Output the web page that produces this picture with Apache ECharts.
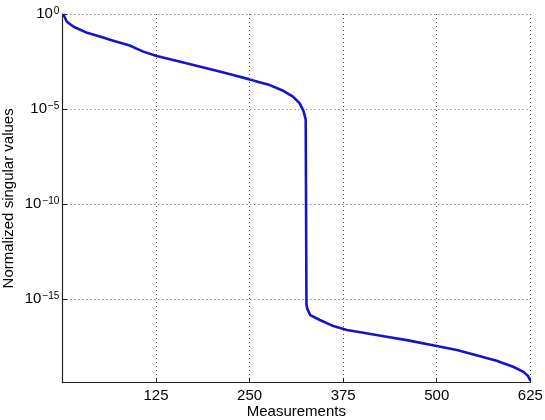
<!DOCTYPE html>
<html>
<head>
<meta charset="utf-8">
<title>Normalized singular values</title>
<script src="https://cdn.jsdelivr.net/npm/echarts@6/dist/echarts.min.js"></script>
<style>
  html, body { margin: 0; padding: 0; background: #fff; }
  #main { width: 545px; height: 420px; }
</style>
</head>
<body>
<div id="main"></div>
<script>
// measurement index (x) and log10 of the normalized singular value (y)
var measurements = [1, 2, 6, 15, 33, 50, 68, 90, 99, 108, 126, 148, 175, 202, 228, 250, 262, 277, 295, 308, 317, 322, 325,
  326, 327, 331, 344, 362, 380, 406, 433, 460, 500, 527, 553, 580, 602, 616, 622, 625]
var logSingular = [0, -0.1, -0.41, -0.67, -0.99, -1.19, -1.41, -1.66, -1.82, -1.98, -2.21, -2.42, -2.68, -2.95, -3.21, -3.44, -3.58, -3.74, -4.04, -4.35, -4.7, -5.1, -5.55,
  -15.3, -15.5, -15.84, -16.1, -16.42, -16.63, -16.8, -16.98, -17.16, -17.47, -17.68, -17.95, -18.25, -18.56, -18.83, -19.05, -19.3]

var xTicks = [125, 250, 375, 500, 625]
var yTicks = [-15, -10, -5, 0]   // exponents shown as 10^n

var font = "'Liberation Sans', Arial, Helvetica, sans-serif"

var chart = echarts.init(document.getElementById('main'))

var points = measurements.map(function (m, i) { return [m, logSingular[i]] })

var gridLine = { show: true, lineStyle: { color: '#555', type: [1, 3], width: 1 } }

var option = {
  animation: false,
  backgroundColor: '#fff',
  grid: { left: 62.4, right: 14.7, top: 14, bottom: 37.3, containLabel: false, outerBoundsMode: 'none' },
  xAxis: {
    type: 'value',
    min: 0,
    max: 625,
    interval: 125,
    name: 'Measurements',
    nameLocation: 'middle',
    nameGap: 22,
    nameMoveOverlap: false,
    nameTextStyle: { fontFamily: font, fontSize: 15, color: '#000' },
    axisLine: { show: true, onZero: false, lineStyle: { color: '#222', width: 1.2 } },
    axisTick: { show: true, inside: true, length: 5, customValues: xTicks, lineStyle: { color: '#222' } },
    axisLabel: {
      customValues: xTicks,
      margin: 6,
      fontFamily: font, fontSize: 15, color: '#000'
    },
    splitLine: gridLine
  },
  yAxis: {
    type: 'value',
    min: -19.4,
    max: 0,
    name: 'Normalized singular values',
    nameLocation: 'middle',
    nameGap: 46,
    nameMoveOverlap: false,
    nameTextStyle: { fontFamily: font, fontSize: 15, color: '#000' },
    axisLine: { show: true, onZero: false, lineStyle: { color: '#222', width: 1.2 } },
    axisTick: { show: true, inside: true, length: 5, customValues: yTicks, lineStyle: { color: '#222' } },
    axisLabel: {
      customValues: yTicks,
      margin: 3,
      formatter: function (v) {
        var e = Math.round(v)
        return '{b|10}{s|' + (e < 0 ? '\u2212' + (-e) : e) + '}'
      },
      rich: {
        b: { fontFamily: font, fontSize: 15, lineHeight: 15, color: '#000', verticalAlign: 'bottom' },
        s: { fontFamily: font, fontSize: 10, lineHeight: 10, color: '#000', verticalAlign: 'top', padding: [0, 0, 7, 1] }
      }
    },
    splitLine: gridLine
  },
  series: [{
    type: 'line',
    data: points,
    showSymbol: false,
    smooth: false,
    lineStyle: { color: '#1414c8', width: 2.6 },
    z: 3
  }]
}

chart.setOption(option)
</script>
</body>
</html>
